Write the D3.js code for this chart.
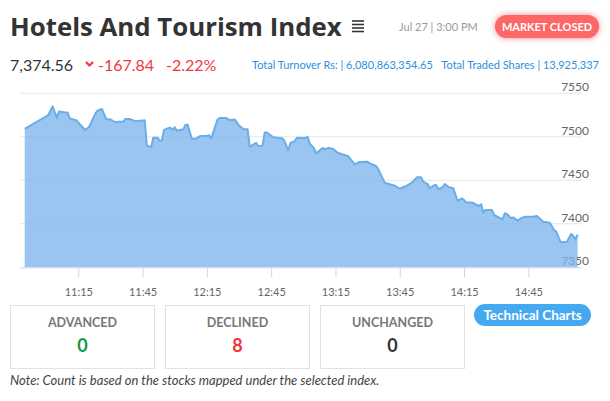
<!DOCTYPE html>
<html>
<head>
<meta charset="utf-8">
<script src="https://cdn.jsdelivr.net/npm/d3@7"></script>
<style>
  body { margin: 0; background: #fff; }
  svg { display: block; font-family: Lato, "Open Sans", sans-serif; }
  .grid line { stroke: #e6e6e6; }
  .xaxis path, .xaxis line { stroke: #ccd6eb; }
  .xaxis text { fill: #666; font-size: 11px; }
  .ylab { fill: #666; font-size: 12px; }
</style>
</head>
<body>
<div id="chart"></div>
<script>
// intraday index values
const times = ["10:50","11:01","11:03","11:05","11:06","11:09","11:10","11:11","11:14","11:17",
  "11:18","11:20","11:23","11:24","11:26","11:28","11:30","11:32","11:36","11:37",
  "11:39","11:41","11:42","11:46","11:47","11:49","11:50","11:52","11:53","11:54",
  "11:55","11:57","11:58","11:59","12:00","12:01","12:04","12:05","12:06","12:08",
  "12:10","12:12","12:15","12:16","12:17","12:20","12:21","12:24","12:26","12:28",
  "12:30","12:32","12:34","12:35","12:38","12:39","12:41","12:42","12:43","12:46",
  "12:50","12:51","12:53","12:54","12:56","12:57","13:01","13:02","13:03","13:05",
  "13:06","13:09","13:10","13:12","13:14","13:16","13:18","13:21","13:24","13:26",
  "13:30","13:31","13:34","13:35","13:38","13:40","13:43","13:45","13:48","13:51",
  "13:53","13:55","13:56","13:58","13:59","14:01","14:02","14:03","14:05","14:06",
  "14:08","14:10","14:12","14:14","14:15","14:16","14:19","14:21","14:22","14:23",
  "14:24","14:25","14:28","14:29","14:33","14:34","14:35","14:37","14:38","14:40",
  "14:42","14:44","14:47","14:49","14:52","14:55","14:57","14:58","15:00","15:01",
  "15:03","15:05","15:06","15:07","15:08"]
const values = [7509,7525,7535,7522,7529,7528,7528,7521,7519,7511,
  7508,7511,7527,7530,7532,7520.5,7520,7517,7517.5,7520.5,
  7520.5,7518.5,7518,7519,7490,7488,7499,7499,7495.5,7495.5,
  7508,7510,7510.5,7508,7511,7507,7508.6,7513.6,7514,7497.5,
  7498,7501,7501,7502,7498,7520,7521.6,7521.6,7519,7520,
  7513,7509,7508.6,7488.6,7493,7489.4,7489.8,7505,7505,7499.4,
  7498.3,7496.3,7484.8,7493,7495,7499,7498.6,7500,7492.5,7486.8,
  7481,7487,7486,7487.1,7486,7481.7,7480,7477.6,7468.4,7471,
  7471.4,7469.5,7466.4,7462.6,7447.2,7445.7,7443.4,7440.3,7443.4,7448,
  7453.4,7453.4,7448.4,7445.7,7440.8,7444.3,7444.6,7439.7,7442,7445.7,
  7442,7440.8,7426.5,7429.3,7427.4,7424.7,7424.2,7421.6,7420.5,7422.4,
  7412.8,7415.9,7415.9,7410.1,7405.2,7412.1,7411.3,7406.3,7407.4,7403.6,
  7407,7408.2,7408.2,7409,7402.4,7401.3,7392.9,7391,7379.4,7378.7,
  7379.4,7388.3,7386,7382.2,7387.5]
const yTicks = [7350, 7400, 7450, 7500, 7550]
const xTicks = ["11:15","11:45","12:15","12:45","13:15","13:45","14:15","14:45"]

const counts = [
  {label: "ADVANCED", value: 0, color: "#0f9a3c"},
  {label: "DECLINED", value: 8, color: "#f2363c"},
  {label: "UNCHANGED", value: 0, color: "#333"}
]

const W = 610, H = 401
const parse = d3.timeParse("%H:%M")
const data = times.map((t, i) => ({t: parse(t), v: values[i]}))

const svg = d3.select("#chart").append("svg")
  .attr("width", W)
  .attr("height", H)

// header
svg.append("text")
  .attr("x", 10).attr("y", 36)
  .style("font-family", "'Open Sans', sans-serif")
  .style("font-size", "25.8px").style("font-weight", "bold")
  .attr("fill", "#333")
  .text("Hotels And Tourism Index")

for (let i = 0; i < 4; i++) {
  svg.append("line")
    .attr("x1", 352).attr("x2", 364)
    .attr("y1", 21 + i * 3.5).attr("y2", 21 + i * 3.5)
    .attr("stroke", "#333").attr("stroke-width", 1.6)
}

svg.append("text")
  .attr("x", 399).attr("y", 31)
  .style("font-size", "11px").attr("fill", "#999")
  .text("Jul 27 | 3:00 PM")

svg.append("rect")
  .attr("x", 495).attr("y", 15).attr("width", 104).attr("height", 23).attr("rx", 11.5)
  .attr("fill", "#fd6767")
  .style("filter", "drop-shadow(0 0 3px rgba(253,90,90,0.7))")
svg.append("text")
  .attr("x", 547).attr("y", 31)
  .attr("text-anchor", "middle")
  .style("font-size", "11px").style("font-weight", "bold")
  .attr("fill", "#fff")
  .text("MARKET CLOSED")

svg.append("text")
  .attr("x", 10).attr("y", 71)
  .style("font-size", "16px").attr("fill", "#333")
  .text("7,374.56")

svg.append("path")
  .attr("d", "M86,62 L89.5,65.5 L93,62")
  .attr("fill", "none").attr("stroke", "#f2363c").attr("stroke-width", 2.2)

svg.append("text")
  .attr("x", 98).attr("y", 71)
  .style("font-size", "16px").attr("fill", "#f2363c")
  .text("-167.84")
svg.append("text")
  .attr("x", 166).attr("y", 71)
  .style("font-size", "16px").attr("fill", "#f2363c")
  .text("-2.22%")

svg.append("text")
  .attr("x", 252).attr("y", 69)
  .style("font-size", "11px").attr("fill", "#2f8fdc")
  .text("Total Turnover Rs: | 6,080,863,354.65")
svg.append("text")
  .attr("x", 599).attr("y", 69)
  .attr("text-anchor", "end")
  .style("font-size", "11px").attr("fill", "#2f8fdc")
  .text("Total Traded Shares | 13,925,337")

// chart
const x = d3.scaleTime()
  .domain([parse("10:45"), parse("15:15")])
  .range([14, 592.6])
const y = d3.scaleLinear()
  .domain([7350, 7550])
  .range([267.3, 93.3])

svg.append("g")
  .attr("class", "grid")
  .selectAll("line")
  .data(yTicks.slice(1))
  .join("line")
  .attr("x1", 20).attr("x2", 582)
  .attr("y1", d => y(d)).attr("y2", d => y(d))

svg.append("g")
  .selectAll("text")
  .data(yTicks)
  .join("text")
  .attr("class", "ylab")
  .attr("x", 589).attr("y", d => y(d) - 2)
  .attr("text-anchor", "end")
  .text(d => d)

svg.append("path")
  .datum(data)
  .attr("fill", "#7cb5ec")
  .attr("fill-opacity", 0.78)
  .attr("d", d3.area()
    .x(d => x(d.t))
    .y0(y(7350))
    .y1(d => y(d.v)))

svg.append("path")
  .datum(data)
  .attr("fill", "none")
  .attr("stroke", "#6aaee8")
  .attr("stroke-width", 2)
  .attr("stroke-linejoin", "round")
  .attr("d", d3.line()
    .x(d => x(d.t))
    .y(d => y(d.v)))

const xAxis = svg.append("g")
  .attr("class", "xaxis")
  .attr("transform", `translate(0, ${y(7350)})`)
  .call(d3.axisBottom(x)
    .tickValues(xTicks.map(parse))
    .tickFormat(d3.timeFormat("%H:%M"))
    .tickSize(10)
    .tickSizeOuter(0))
xAxis.select(".domain").attr("d", "M20,0.5H582")
xAxis.selectAll("text").attr("dy", "1.45em").style("font-family", "Lato, sans-serif")

// counts
const boxes = svg.append("g")
  .selectAll("g")
  .data(counts)
  .join("g")
  .attr("transform", (d, i) => `translate(${10 + i * 155}, 305)`)

boxes.append("rect")
  .attr("x", 0.5).attr("y", 0.5).attr("width", 144).attr("height", 63)
  .attr("fill", "#fff").attr("stroke", "#e2e2e2")
boxes.append("text")
  .attr("x", 72.5).attr("y", 22)
  .attr("text-anchor", "middle")
  .style("font-size", "12.5px").style("font-weight", "bold")
  .attr("fill", "#777")
  .text(d => d.label)
boxes.append("text")
  .attr("x", 72.5).attr("y", 47)
  .attr("text-anchor", "middle")
  .style("font-size", "18px").style("font-weight", "bold")
  .attr("fill", d => d.color)
  .text(d => d.value)

svg.append("rect")
  .attr("x", 474).attr("y", 304).attr("width", 117).attr("height", 22).attr("rx", 11)
  .attr("fill", "#45a9f2")
svg.append("text")
  .attr("x", 532.5).attr("y", 320)
  .attr("text-anchor", "middle")
  .style("font-size", "13.5px").style("font-weight", "bold")
  .attr("fill", "#fff")
  .text("Technical Charts")

svg.append("text")
  .attr("x", 10).attr("y", 385)
  .style("font-size", "13px").style("font-style", "italic")
  .attr("fill", "#444")
  .text("Note: Count is based on the stocks mapped under the selected index.")
</script>
</body>
</html>
